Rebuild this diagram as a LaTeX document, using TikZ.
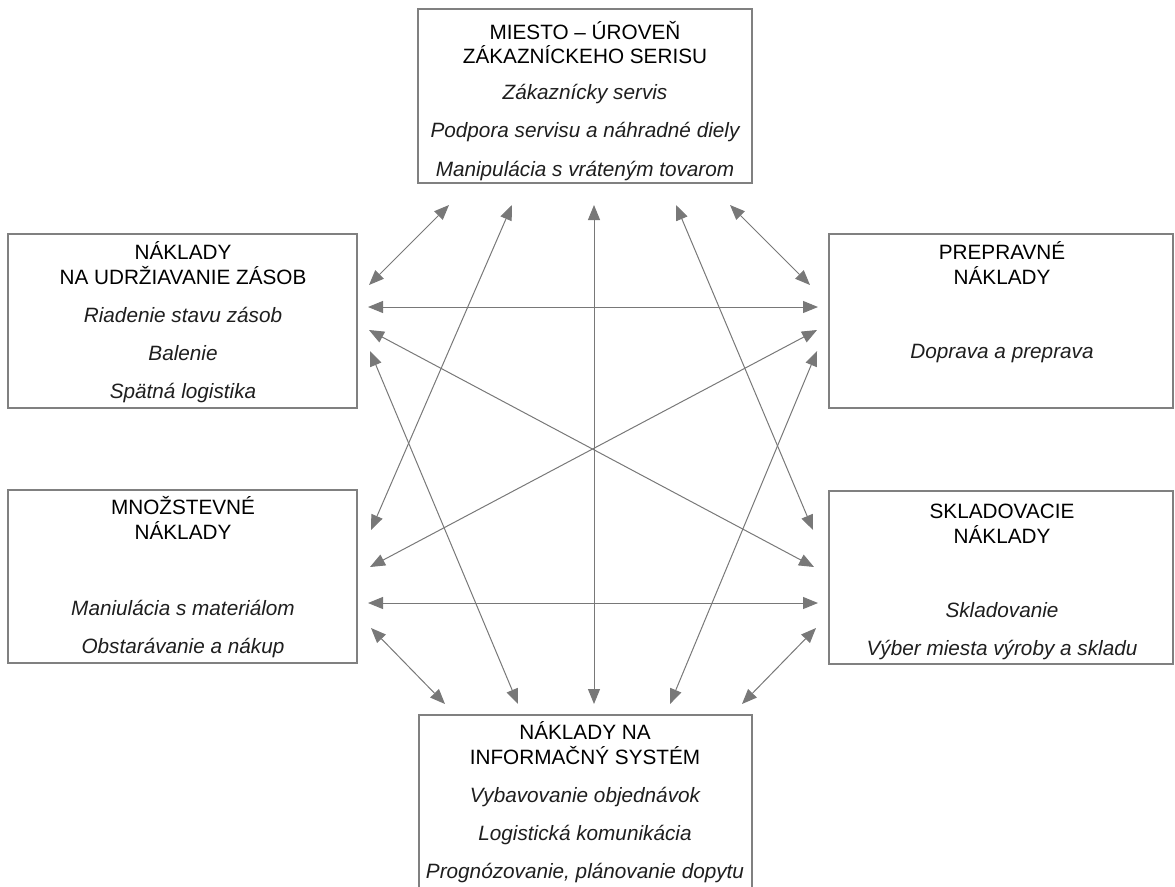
\documentclass[tikz,border=0pt]{standalone}
\usepackage{fontspec}
\setmainfont{Liberation Sans}
\usetikzlibrary{arrows.meta}

\begin{document}
\begin{tikzpicture}[
        x = 0.02cm,
        y = -0.02cm
    ]

        \definecolor{boxframe}{RGB}{128,128,128}
        \definecolor{linkline}{RGB}{120,120,120}
        \definecolor{itemtext}{RGB}{30,30,30}

        \tikzset{%
            costbox/.style = {%
                rectangle,
                draw           = boxframe,
                line width     = 0.04cm,
                minimum height = 3.48cm
            },
            headline/.style = {%
                anchor    = base,
                inner sep = 0pt,
                font      = \fontsize{11.8}{14}\selectfont
            },
            itemline/.style = {%
                headline,
                text = itemtext,
                font = \fontsize{11.8}{14}\selectfont\itshape
            },
            link/.style = {%
                draw       = linkline,
                line width = 0.02cm,
                {Triangle[length = 0.3cm, width = 0.24cm]}-{Triangle[length = 0.3cm, width = 0.24cm]}
            }
        }

        \clip (0, 0) rectangle (1175, 886);

        \node[costbox, minimum width = 6.68cm] (miesto)   at (585, 96)     {};
        \node[costbox, minimum width = 6.98cm] (zasoby)   at (182.5, 321)  {};
        \node[costbox, minimum width = 6.88cm] (preprava) at (1001, 321)   {};
        \node[costbox, minimum width = 6.98cm] (mnozstvo) at (182.5, 576.5) {};
        \node[costbox, minimum width = 6.88cm] (sklad)    at (1001, 577.5) {};
        \node[costbox, minimum width = 6.66cm] (info)     at (585.5, 801.5) {};

        % Texts
        \node[headline] at (585, 39) {MIESTO – ÚROVEŇ};
        \node[headline] at (585, 63) {ZÁKAZNÍCKEHO SERISU};
        \foreach \t [count = \i from 0] in {Zákaznícky servis, Podpora servisu a náhradné diely, Manipulácia s vráteným tovarom} {
            \node[itemline] at (585, 99 + 38.5*\i) {\t};
        }

        \node[headline] at (183, 259) {NÁKLADY};
        \node[headline] at (183, 284) {NA UDRŽIAVANIE ZÁSOB};
        \foreach \t [count = \i from 0] in {Riadenie stavu zásob, Balenie, Spätná logistika} {
            \node[itemline] at (183, 322 + 38*\i) {\t};
        }

        \node[headline] at (1002, 259) {PREPRAVNÉ};
        \node[headline] at (1002, 284) {NÁKLADY};
        \node[itemline] at (1002, 358) {Doprava a preprava};

        \node[headline] at (183, 514) {MNOŽSTEVNÉ};
        \node[headline] at (183, 539) {NÁKLADY};
        \foreach \t [count = \i from 0] in {Maniulácia s materiálom, Obstarávanie a nákup} {
            \node[itemline] at (183, 615 + 38*\i) {\t};
        }

        \node[headline] at (1002, 518) {SKLADOVACIE};
        \node[headline] at (1002, 543) {NÁKLADY};
        \foreach \t [count = \i from 0] in {Skladovanie, Výber miesta výroby a skladu} {
            \node[itemline] at (1002, 617 + 38*\i) {\t};
        }

        \node[headline] at (585, 739) {NÁKLADY NA};
        \node[headline] at (585, 764) {INFORMAČNÝ SYSTÉM};
        \foreach \t [count = \i from 0] in {Vybavovanie objednávok, Logistická komunikácia, {Prognózovanie, plánovanie dopytu}} {
            \node[itemline] at (585, 802 + 38*\i) {\t};
        }

        % Arrow ends
        \foreach \x [count = \i] in {449, 512, 594, 676, 730} {
            \coordinate (m\i) at (\x, 205);
        }
        \foreach \x [count = \i] in {445, 518, 594, 670, 742} {
            \coordinate (i\i) at (\x, 704);
        }
        \foreach \x/\y [count = \i] in {369/285, 368/307, 369/330, 370/351} {
            \coordinate (z\i) at (\x, \y);
        }
        \foreach \x/\y [count = \i] in {810/285, 818/307, 817/330, 817/351} {
            \coordinate (p\i) at (\x, \y);
        }
        \foreach \x/\y [count = \i] in {371/530, 370/567, 368/603, 371/628} {
            \coordinate (n\i) at (\x, \y);
        }
        \foreach \x/\y [count = \i] in {813/530, 814/567, 818/603, 816/628} {
            \coordinate (s\i) at (\x, \y);
        }

        % Arrows
        \draw[link] (m1) -- (z1);
        \draw[link] (m2) -- (n1);
        \draw[link] (m3) -- (i3);
        \draw[link] (m4) -- (s1);
        \draw[link] (m5) -- (p1);
        \draw[link] (z2) -- (p2);
        \draw[link] (z3) -- (s2);
        \draw[link] (z4) -- (i2);
        \draw[link] (p3) -- (n2);
        \draw[link] (p4) -- (i4);
        \draw[link] (n3) -- (s3);
        \draw[link] (n4) -- (i1);
        \draw[link] (s4) -- (i5);

    \end{tikzpicture}
\end{document}
